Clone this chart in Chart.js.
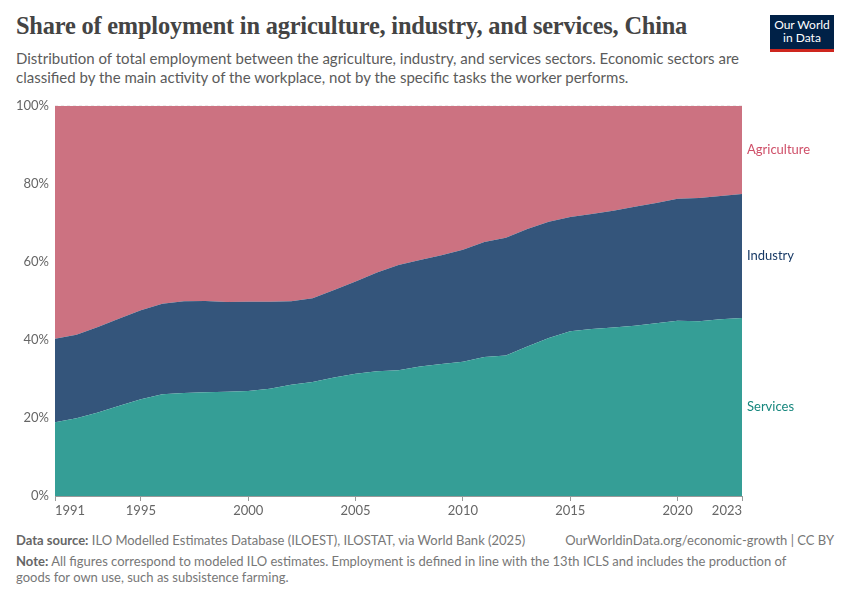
<!DOCTYPE html>
<html>
<head>
<meta charset="utf-8">
<script src="https://cdn.jsdelivr.net/npm/chart.js@4"></script>
<style>
  body { margin: 0; width: 850px; height: 600px; background: #fff; font-family: Lato, "Open Sans", sans-serif; position: relative; overflow: hidden; }
  #title { position: absolute; left: 16px; top: 12px; font-family: "Liberation Serif", serif; font-weight: bold; font-size: 24.4px; color: #444; letter-spacing: -0.2px; }
  #subtitle { position: absolute; left: 16px; top: 49px; width: 740px; font-size: 15px; line-height: 19px; color: #5b5b5b; }
  #logo { position: absolute; left: 770px; top: 15px; width: 64px; background: #002147; border-bottom: 3px solid #ce261e; color: #fff; font-size: 12px; line-height: 13px; text-align: center; padding-top: 3px; box-sizing: content-box; height: 31px; }
  #chartWrap { position: absolute; left: 0; top: 92px; width: 850px; height: 429px; }
  .foot { position: absolute; font-size: 13px; color: #777; }
  .foot b { font-weight: bold; color: #666; }
</style>
</head>
<body>
<div id="title">Share of employment in agriculture, industry, and services, China</div>
<div id="subtitle">Distribution of total employment between the agriculture, industry, and services sectors. Economic sectors are classified by the main activity of the workplace, not by the specific tasks the worker performs.</div>
<div id="logo">Our World<br>in Data</div>
<div id="chartWrap"><canvas id="chart" width="850" height="429"></canvas></div>
<div class="foot" style="left:16px; top:532px;"><b>Data source:</b> ILO Modelled Estimates Database (ILOEST), ILOSTAT, via World Bank (2025)</div>
<div class="foot" style="right:16px; top:532px;">OurWorldinData.org/economic-growth | CC BY</div>
<div class="foot" style="left:16px; top:553px; width:790px; line-height:16px;"><b>Note:</b> All figures correspond to modeled ILO estimates. Employment is defined in line with the 13th ICLS and includes the production of goods for own use, such as subsistence farming.</div>
<script>
// years 1991..2023
const years = [1991, 1992, 1993, 1994, 1995, 1996, 1997, 1998, 1999, 2000,
  2001, 2002, 2003, 2004, 2005, 2006, 2007, 2008, 2009, 2010,
  2011, 2012, 2013, 2014, 2015, 2016, 2017, 2018, 2019, 2020,
  2021, 2022, 2023];

// shares in %
const services = [18.9, 19.9, 21.4, 23.1, 24.8, 26.1, 26.4, 26.6, 26.7, 26.9,
  27.5, 28.5, 29.2, 30.4, 31.3, 32.0, 32.2, 33.2, 33.8, 34.4,
  35.6, 36.0, 38.3, 40.5, 42.2, 42.8, 43.2, 43.6, 44.3, 44.9,
  44.8, 45.3, 45.6];
const industry = [21.4, 21.4, 21.9, 22.4, 22.8, 23.2, 23.5, 23.4, 23.0, 22.9,
  22.3, 21.4, 21.5, 22.4, 23.7, 25.3, 27.0, 27.3, 27.9, 28.7,
  29.5, 30.2, 30.1, 29.8, 29.3, 29.5, 29.9, 30.5, 30.8, 31.3,
  31.6, 31.6, 31.8];
const agriculture = [59.7, 58.7, 56.7, 54.5, 52.4, 50.7, 50.1, 50.0, 50.3, 50.2,
  50.2, 50.1, 49.3, 47.2, 45.0, 42.7, 40.8, 39.5, 38.3, 36.9,
  34.9, 33.8, 31.6, 29.7, 28.5, 27.7, 26.9, 25.9, 24.9, 23.8,
  23.6, 23.1, 22.6];

const xTicks = [1991, 1995, 2000, 2005, 2010, 2015, 2020, 2023];
const yTicks = [0, 20, 40, 60, 80, 100];

const series = [
  { label: "Services", data: services, fill: "#359e96", text: "#17877e" },
  { label: "Industry", data: industry, fill: "#34557b", text: "#183a66" },
  { label: "Agriculture", data: agriculture, fill: "#cc7281", text: "#cf4f68" }
];

const endLabels = {
  id: "endLabels",
  afterDatasetsDraw(chart) {
    const ctx = chart.ctx;
    const y = chart.scales.y;
    const last = years.length - 1;
    let base = 0;
    ctx.save();
    ctx.font = "13px Lato";
    ctx.textBaseline = "middle";
    series.forEach((s) => {
      const v = s.data[last];
      const mid = base + v / 2;
      base += v;
      ctx.fillStyle = s.text;
      ctx.fillText(s.label, chart.chartArea.right + 5, y.getPixelForValue(mid));
    });
    ctx.restore();
  }
};

new Chart(document.getElementById("chart"), {
  type: "line",
  data: {
    datasets: series.map((s, i) => ({
      label: s.label,
      data: s.data.map((v, j) => ({ x: years[j], y: v })),
      backgroundColor: s.fill,
      borderColor: s.fill,
      borderWidth: 0,
      pointRadius: 0,
      fill: i === 0 ? "origin" : "-1",
      tension: 0
    }))
  },
  options: {
    responsive: false,
    animation: false,
    layout: { padding: { top: 6, right: 108, left: 0, bottom: 0 } },
    plugins: { legend: { display: false }, tooltip: { enabled: false } },
    scales: {
      x: {
        type: "linear",
        min: 1991,
        max: 2023,
        afterBuildTicks: (scale) => { scale.ticks = xTicks.map((v) => ({ value: v })); },
        afterFit: (scale) => { scale.height = 25; },
        grid: { display: true, drawOnChartArea: false, drawTicks: true, tickLength: 5, color: "#999" },
        border: { color: "#999" },
        ticks: { color: "#666", font: { family: "Lato", size: 13 }, maxRotation: 0, padding: 2, align: "inner", callback: (v) => String(v) }
      },
      y: {
        stacked: true,
        min: 0,
        max: 100,
        z: 1,
        afterBuildTicks: (scale) => { scale.ticks = yTicks.map((v) => ({ value: v })); },
        afterFit: (scale) => { scale.width = 55; },
        grid: { color: "rgba(0,0,0,0.07)", drawTicks: false },
        border: { display: false, dash: [3, 3] },
        ticks: { color: "#666", font: { family: "Lato", size: 13 }, padding: 6, callback: (v) => v + "%" }
      }
    }
  },
  plugins: [endLabels]
});
</script>
</body>
</html>
